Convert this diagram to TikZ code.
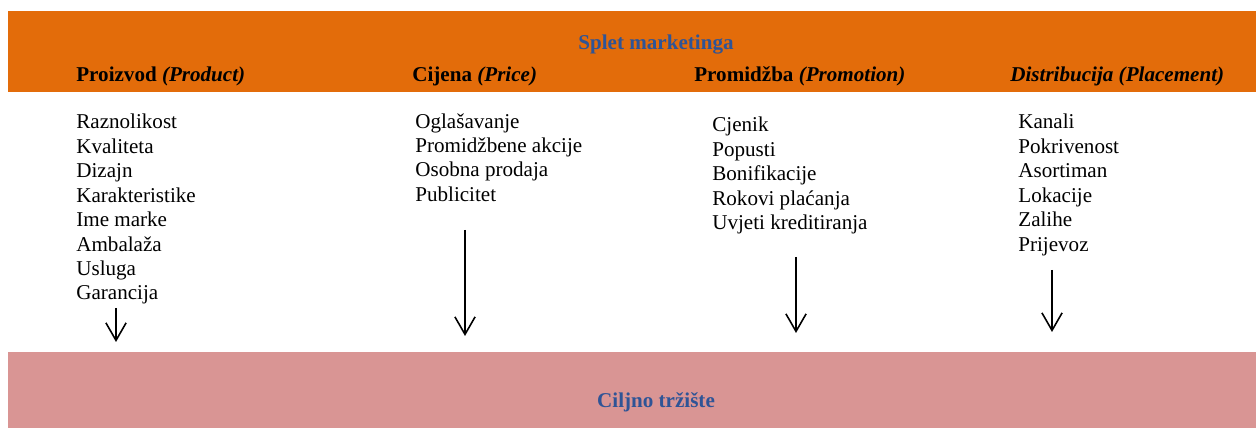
\documentclass[tikz,border=0pt]{standalone}
\usepackage{fontspec}
\setmainfont{Liberation Serif}
\usetikzlibrary{arrows.meta}
\definecolor{bandorange}{RGB}{227,108,10}
\definecolor{bandpink}{RGB}{217,149,148}
\definecolor{titleblue}{RGB}{47,84,150}
\tikzset{
  head/.style={font=\bfseries\fontsize{12}{14}\selectfont, anchor=west, inner sep=0pt},
  title/.style={font=\bfseries\fontsize{12}{14}\selectfont, text=titleblue, inner sep=0pt},
  items/.style={font=\fontsize{12}{13.9}\selectfont, align=left, anchor=north west, inner sep=0pt},
  down/.style={-{Straight Barb[length=10pt,width=11.5pt]}, line width=0.9pt}
}
\begin{document}
\begin{tikzpicture}[x=0.02cm,y=-0.02cm]
  \useasboundingbox (0,0) rectangle (1256,428);
  % bands
  \fill[bandorange] (8,11) rectangle (1256,92);
  \fill[bandpink] (8,352) rectangle (1256,428);
  \node[title] (mix) at (656,45) {Splet marketinga};
  \node[title] (market) at (656,402) {Ciljno tržište};
  % headings
  \node[head] (product) at (76,76) {Proizvod \textit{(Product)}};
  \node[head] (price) at (412,76) {Cijena \textit{(Price)}};
  \node[head] (promotion) at (694,76) {Promidžba \textit{(Promotion)}};
  \node[head] (placement) at (1010,76) {\textit{Distribucija (Placement)}};
  % lists
  \node[items] (productlist) at (76,114) {Raznolikost\\Kvaliteta\\Dizajn\\Karakteristike\\Ime marke\\Ambalaža\\Usluga\\Garancija};
  \node[items] (pricelist) at (415,113) {Oglašavanje\\Promidžbene akcije\\Osobna prodaja\\Publicitet};
  \node[items] (promotionlist) at (712,117) {Cjenik\\Popusti\\Bonifikacije\\Rokovi plaćanja\\Uvjeti kreditiranja};
  \node[items] (placementlist) at (1018,114) {Kanali\\Pokrivenost\\Asortiman\\Lokacije\\Zalihe\\Prijevoz};
  % arrows
  \coordinate (a1) at (116,308); \coordinate (b1) at (116,342);
  \coordinate (a2) at (465,230); \coordinate (b2) at (465,336);
  \coordinate (a3) at (796,257); \coordinate (b3) at (796,333);
  \coordinate (a4) at (1052,270); \coordinate (b4) at (1052,332);
  \draw[down] (a1) -- (b1);
  \draw[down] (a2) -- (b2);
  \draw[down] (a3) -- (b3);
  \draw[down] (a4) -- (b4);
\end{tikzpicture}
\end{document}
